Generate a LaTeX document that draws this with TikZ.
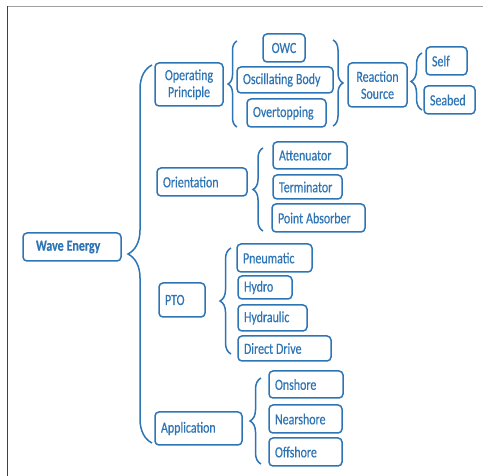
\documentclass[tikz,border=0pt]{standalone}
\usepackage{fontspec}
\setmainfont{Carlito}[FakeStretch=0.77,FakeBold=0.4]
\usetikzlibrary{decorations.pathreplacing}
\definecolor{wblue}{RGB}{46,117,182}
\newcommand\wespace{\spaceskip 3pt\relax}
\tikzset{
 box/.style={draw=wblue,text=wblue,rounded corners=4pt,line width=1.5pt,align=left,
             inner xsep=6pt,inner ysep=0pt,font=\fontsize{15.5}{17}\selectfont,
             execute at begin node=\wespace},
 cbox/.style={box,align=center},
 curly/.style={decorate,decoration={brace,amplitude=#1},draw=wblue,line width=1.5pt}
}
\begin{document}
\begin{tikzpicture}[x=1pt,y=1pt]
\useasboundingbox (0,0) rectangle (483,-476);
\fill[white] (0,0) rectangle (483,-476);
\draw[line width=1.5pt,gray!75] (7.5,-6.5) -- (483,-6.5);
\draw[line width=1.5pt,black!75] (7.5,-6.5) -- (7.5,-476);

\node[box,inner xsep=13pt,text width=72pt,minimum height=28pt] (wave) at (72,-247) {\bfseries\wespace Wave Energy};

\node[cbox,text width=56pt,minimum height=43pt] (oper) at (189,-84.5) {Operating\\Principle};
\node[box,text width=78pt,minimum height=28pt] (orient) at (202,-182) {Orientation};
\node[box,text width=34pt,minimum height=34pt] (pto) at (182,-300) {PTO};
\node[box,text width=75pt,minimum height=33pt] (app) at (198.5,-428.5) {Application};

\node[cbox,text width=30pt,minimum height=28pt] (owc) at (284,-48) {OWC};
\node[box,text width=84pt,minimum height=26pt] (osc) at (285,-80) {Oscillating Body};
\node[box,text width=67pt,minimum height=28pt] (over) at (286.5,-113) {Overtopping};
\node[cbox,text width=47pt,minimum height=44pt] (react) at (377.5,-85) {Reaction\\Source};
\node[box,text width=29pt,minimum height=28pt] (self) at (446.5,-61) {Self};
\node[box,text width=39pt,minimum height=28pt] (seabed) at (449.5,-100) {Seabed};

\node[box,text width=62pt,minimum height=27pt] (atten) at (310,-155.5) {Attenuator};
\node[box,text width=57pt,minimum height=24pt] (term) at (307.5,-187) {Terminator};
\node[box,text width=81pt,minimum height=28pt] (point) at (318.5,-218) {Point Absorber};

\node[box,text width=63pt,minimum height=28pt] (pneu) at (274.5,-258) {Pneumatic};
\node[box,text width=42pt,minimum height=23pt] (hydro) at (265,-287.5) {Hydro};
\node[box,text width=57pt,minimum height=26pt] (hydraulic) at (272.5,-318) {Hydraulic};
\node[box,text width=81pt,minimum height=25pt] (direct) at (284.5,-348.5) {Direct Drive};

\node[box,text width=62pt,minimum height=27pt] (onshore) at (306,-384.5) {Onshore};
\node[box,text width=61pt,minimum height=28pt] (near) at (305.5,-419) {Nearshore};
\node[box,text width=61pt,minimum height=28pt] (off) at (305.5,-452) {Offshore};

\coordinate (waveT) at (152,-65);
\coordinate (waveB) at (152,-443);
\coordinate (operT) at (237,-41);
\coordinate (operB) at (237,-127);
\coordinate (reactT) at (333,-40);
\coordinate (reactB) at (333,-126);
\coordinate (selfT) at (422,-53);
\coordinate (selfB) at (422,-110);
\coordinate (orientT) at (263,-148);
\coordinate (orientB) at (263,-231);
\coordinate (ptoT) at (231,-248);
\coordinate (ptoB) at (231,-354);
\coordinate (appT) at (261,-378);
\coordinate (appB) at (261,-464);

\draw[curly=24pt] (waveB) -- (waveT);
\draw[curly=9pt] (operB) -- (operT);
\draw[curly=10pt] (reactT) -- (reactB);
\draw[curly=11pt] (selfB) -- (selfT);
\draw[curly=10pt] (orientB) -- (orientT);
\draw[curly=11pt] (ptoB) -- (ptoT);
\draw[curly=11pt] (appB) -- (appT);
\end{tikzpicture}
\end{document}
